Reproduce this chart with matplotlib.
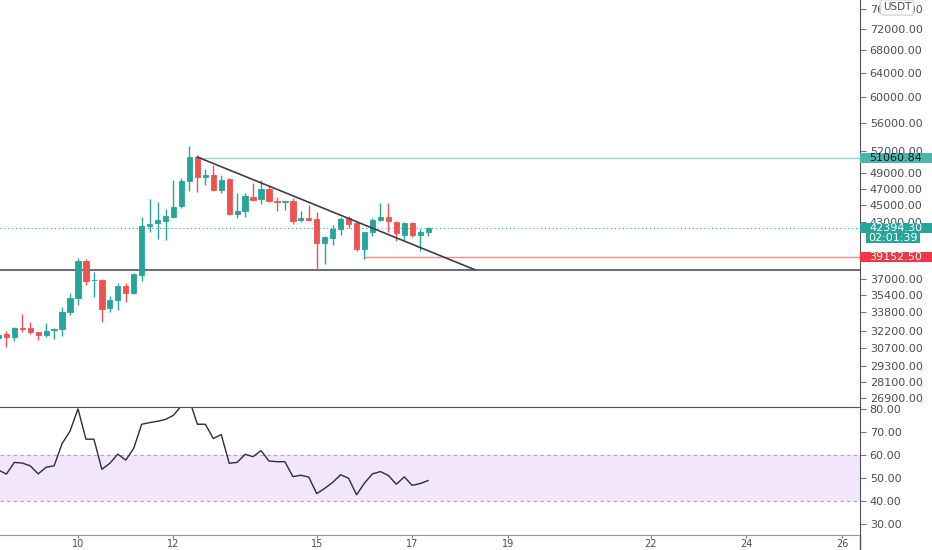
import matplotlib.pyplot as plt
import numpy as np
from matplotlib.lines import Line2D
from matplotlib.patches import Rectangle

# 4h candles, first visible one is day 8 08:00
first_candle_day = 8 + 2 / 6

opens = [31570, 31910, 31650, 32420, 32420, 32080, 31820, 32250, 32340, 33840,
         35130, 38770, 36850, 36850, 34200, 34940, 36260, 35600, 37350, 42570,
         42910, 43140, 43600, 44900, 47990, 51170, 48500, 48760, 46850, 48250,
         43950, 44300, 45980, 45740, 46980, 45500, 45380, 45500, 43250, 43480,
         43370, 40670, 41220, 42230, 43480, 42910, 40030, 41890, 43250, 43600,
         43020, 41550, 42910, 41550, 41890]
highs = [31990, 32160, 32510, 33660, 32940, 32100, 32860, 32380, 34300, 35600,
         39080, 38970, 37650, 36950, 35320, 36550, 36550, 37550, 43600, 45730,
         45380, 44540, 48120, 48380, 52690, 51440, 49550, 50080, 48760, 48380,
         46480, 46480, 47740, 48120, 47360, 45990, 45550, 45860, 44300, 45010,
         44180, 41440, 42680, 43600, 43710, 43020, 41920, 43480, 45260, 45260,
         43130, 43020, 43020, 42230, 42450]
lows = [31400, 30810, 31320, 32080, 31910, 31400, 31650, 31480, 31740, 33570,
        34480, 36360, 35220, 32940, 33840, 34020, 34760, 35500, 36750, 41890,
        41110, 41000, 43480, 44660, 46730, 46600, 47480, 46730, 46480, 43840,
        43480, 43600, 45500, 45130, 45380, 44300, 44420, 42790, 43020, 43130,
        37880, 38460, 40460, 41550, 42340, 39820, 38970, 41440, 43130, 41890,
        40890, 41000, 41330, 39820, 41440]
closes = [31820, 31650, 32420, 32340, 32080, 31820, 32160, 32340, 33840, 35130,
          38770, 36750, 36900, 34110, 34940, 36260, 35600, 37450, 42570, 42800,
          43250, 43710, 44780, 47990, 51170, 48500, 48760, 46850, 48120, 43950,
          44300, 46100, 45620, 46980, 45500, 45380, 45500, 43130, 43480, 43250,
          40670, 41330, 42230, 43370, 42790, 40030, 41890, 43250, 43600, 43130,
          41780, 42910, 41550, 41890, 42394.30]
rsi = [53.5, 51.7, 56.8, 56.5, 55.3, 51.8, 54.7, 55.3, 65.0, 70.4,
       80.1, 66.9, 66.9, 53.8, 56.4, 60.4, 57.8, 62.9, 73.4, 74.1,
       74.7, 75.5, 77.3, 81.5, 84.0, 73.4, 73.4, 67.2, 68.9, 56.4,
       56.8, 60.3, 59.3, 61.9, 57.4, 57.1, 57.1, 50.6, 51.2, 50.4,
       43.2, 45.5, 48.1, 51.4, 49.9, 42.7, 47.8, 51.8, 52.8, 51.1,
       47.3, 50.5, 46.8, 47.6, 48.9]

price_ticks = [26900, 28100, 29300, 30700, 32200, 33800, 35400, 37000,
               43000, 45000, 47000, 49000, 52000, 56000, 60000, 64000,
               68000, 72000, 76000]
rsi_ticks = [30, 40, 50, 60, 70, 80]
day_ticks = [10, 12, 15, 17, 19, 22, 24, 26]

support = 37880
resistance = 51060.84
stop_level = 39152.50
last_price = 42394.30
countdown = "02:01:39"
trend_days = [12.5, 18.31]
trend_prices = [51170, 37880]
resistance_start = 12.5
stop_start = 16.0

up_col = "#26a69a"
down_col = "#ef5350"
axis_col = "#50535e"
text_col = "#4a4d57"

W, H = 932, 550
o = np.array(opens)
h = np.array(highs)
l = np.array(lows)
c = np.array(closes)
days = first_candle_day + np.arange(len(o)) / 6
colors = np.where(c >= o, up_col, down_col)

fig = plt.figure(figsize=(W / 100, H / 100), dpi=100)
ax = fig.add_axes([0, 143 / H, 860 / W, 407 / H])
ax_rsi = fig.add_axes([0, 15 / H, 860 / W, 128 / H], sharex=ax)

# price panel
ax.set_yscale("log")
ax.axhline(support, color="#5d606b", lw=1.3, zorder=1)
ax.hlines(resistance, resistance_start, 40, color="#92d5ce", lw=1.0, zorder=1)
ax.hlines(stop_level, stop_start, 40, color="#f28b8b", lw=1.0, zorder=1)
ax.axhline(last_price, color=up_col, lw=0.8, ls=(0, (1, 2.5)), zorder=1)
ax.vlines(days, l, h, colors=colors, lw=1, zorder=2)
ax.bar(days, np.abs(c - o), bottom=np.minimum(o, c), width=0.11,
       color=colors, edgecolor=colors, linewidth=0.6, zorder=3)
ax.plot(trend_days, trend_prices, color="#3c3f4a", lw=1.2, zorder=4)

ax.set_xlim(8.3665, 26.377)
ax.set_ylim(26260, 77800)
ax.yaxis.tick_right()
ax.set_yticks(price_ticks, labels=[f"{v:.2f}" for v in price_ticks])
ax.yaxis.set_minor_locator(plt.NullLocator())
ax.tick_params(axis="y", direction="out", length=4, width=0.8, color="#787b86",
               labelsize=8, labelcolor=text_col, pad=3)
ax.tick_params(axis="x", bottom=False, labelbottom=False)
for s in ["left", "top", "bottom"]:
    ax.spines[s].set_visible(False)
ax.spines["right"].set_color(axis_col)

# rsi panel
ax_rsi.axhspan(40, 60, color="#f1e6fc", lw=0)
ax_rsi.axhline(60, color="#a3a6ae", lw=0.8, ls=(0, (3, 3)))
ax_rsi.axhline(40, color="#a3a6ae", lw=0.8, ls=(0, (3, 3)))
ax_rsi.plot(days, rsi, color="#2a2e39", lw=1)
ax_rsi.set_ylim(25.2, 80.9)
ax_rsi.yaxis.tick_right()
ax_rsi.set_yticks(rsi_ticks, labels=[f"{v:.2f}" for v in rsi_ticks])
ax_rsi.set_xticks(day_ticks, labels=[str(d) for d in day_ticks])
ax_rsi.tick_params(axis="y", direction="out", length=4, width=0.8, color="#787b86",
                   labelsize=8, labelcolor=text_col, pad=3)
ax_rsi.tick_params(axis="x", direction="out", length=2, width=0.8, color="#787b86",
                   labelsize=7, labelcolor=text_col, pad=1)
ax_rsi.spines["left"].set_visible(False)
ax_rsi.spines["top"].set_color(axis_col)
ax_rsi.spines["bottom"].set_color("#9598a1")
ax_rsi.spines["right"].set_color(axis_col)
fig.add_artist(Line2D([860 / W, 860 / W], [0, 15 / H], transform=fig.transFigure,
                      color=axis_col, lw=1))


def price_tag(price, text, face, fg, dy=0, x0=860, w=72):
    ypix = ax.transData.transform((days[0], price))[1] - dy
    fig.add_artist(Rectangle((x0 / W, (ypix - 5) / H), w / W, 10 / H,
                             transform=fig.transFigure, facecolor=face,
                             edgecolor="none", zorder=5))
    fig.text((x0 + w / 2) / W, ypix / H, text, ha="center", va="center",
             fontsize=8, color=fg, zorder=6)


price_tag(resistance, f"{resistance:.2f}", "#4db6ac", "#131722")
price_tag(last_price, f"{last_price:.2f}", up_col, "white")
price_tag(last_price, countdown, up_col, "white", dy=10.5, x0=866, w=54)
price_tag(stop_level, f"{stop_level:.2f}", "#f23645", "white")

fig.text(897 / W, 1 - 7.5 / H, "USDT", ha="center", va="center", fontsize=7.5,
         color=text_col, zorder=6,
         bbox=dict(boxstyle="round,pad=0.25", facecolor="white", edgecolor="#c9cbd1", lw=0.8))

fig.savefig("out.png", dpi=100)
